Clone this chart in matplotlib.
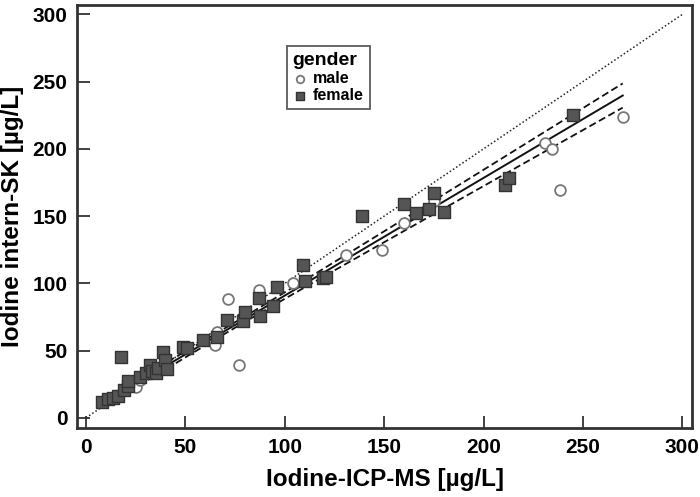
import numpy as np
import matplotlib
matplotlib.use('Agg')
import matplotlib.pyplot as plt

# female (filled squares): ICP-MS vs intern-SK, ug/L
female_x = [8, 11, 13.5, 16, 17.6, 19, 21, 21, 27, 30, 32, 33, 35, 36, 39, 40, 41,
            49, 51, 59, 66, 71, 79, 80, 87, 87.5, 94, 96, 109, 110, 119, 121,
            139, 160, 166, 172.5, 175, 180, 211, 213, 245]
female_y = [12, 14, 15, 16, 45, 21, 24, 27.5, 30, 33, 39, 35, 33.5, 37, 49, 43, 36,
            53, 52, 58, 60, 73, 72, 78.5, 89, 76, 83, 97, 114, 102, 104, 105,
            150, 159, 152, 155.5, 167, 153, 173, 178, 225]

# male (open circles)
male_x = [25, 27, 65, 66, 71.5, 77, 87, 104, 131, 149, 160, 175, 231, 234.5, 238.5, 270]
male_y = [23, 28, 54, 64, 88.5, 39, 95, 100, 121, 125, 145, 161.5, 204.5, 200, 169.5, 224]

# regression line and confidence band
fit_slope = 0.875
fit_intercept = 3.4
band_center = 70
band_min = 2.0
band_at_max = 9.0

x_all = np.array(female_x + male_x, dtype=float)
xf = np.linspace(x_all.min(), x_all.max(), 200)
yf = fit_slope * xf + fit_intercept
k2 = (band_at_max ** 2 - band_min ** 2) / (x_all.max() - band_center) ** 2
hw = np.sqrt(band_min ** 2 + k2 * (xf - band_center) ** 2)

plt.rcParams['font.family'] = ['Liberation Sans', 'DejaVu Sans']
plt.rcParams['font.weight'] = 'bold'

fig = plt.figure(figsize=(7, 4.97), dpi=100)
ax = fig.add_axes([0.11, 0.139, 0.879, 0.851])

ax.plot([0, 300], [0, 300], color='#222222', lw=1.1, ls=(0, (1, 1.5)))
ax.plot(xf, yf, color='#111111', lw=1.4)
ax.plot(xf, yf + hw, color='#111111', lw=1.3, ls=(0, (4, 2)))
ax.plot(xf, yf - hw, color='#111111', lw=1.3, ls=(0, (4, 2)))

ax.scatter(male_x, male_y, s=60, marker='o', facecolors='white',
           edgecolors='#777777', linewidths=1.3, label='male', zorder=3)
ax.scatter(female_x, female_y, s=70, marker='s', facecolors='#555555',
           edgecolors='#333333', linewidths=1.0, label='female', zorder=3)

ax.set_xlim(-4.5, 305)
ax.set_ylim(-7.5, 307)
ax.set_xticks(np.arange(0, 301, 50))
ax.set_yticks(np.arange(0, 301, 50))
ax.tick_params(direction='in', length=9, width=1.3, color='#333333',
               labelsize=15, pad=7)
for lab in ax.get_xticklabels() + ax.get_yticklabels():
    lab.set_fontweight('bold')
for sp in ax.spines.values():
    sp.set_linewidth(2)
    sp.set_color('#333333')

ax.set_xlabel('Iodine-ICP-MS [µg/L]', fontsize=17.5, fontweight='bold', labelpad=8)
ax.set_ylabel('Iodine intern-SK [µg/L]', fontsize=17.5, fontweight='bold', labelpad=6)

leg = ax.legend(title='gender', loc='upper left', bbox_to_anchor=(0.328, 0.922),
                frameon=True, fancybox=False, edgecolor='#333333',
                prop={'weight': 'bold', 'size': 11.5}, handletextpad=0.3,
                borderpad=0.35, labelspacing=0.15, handlelength=1.0, markerscale=0.7)
leg.get_title().set_fontweight('bold')
leg.get_title().set_fontsize(14)
leg._legend_box.align = 'left'
leg.get_frame().set_linewidth(1.3)

fig.savefig('out.png', dpi=100)
